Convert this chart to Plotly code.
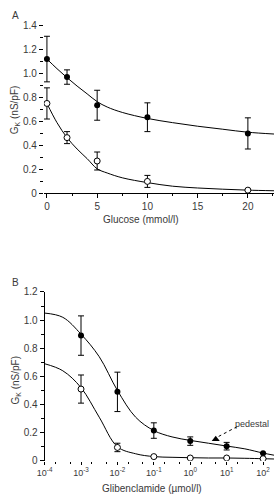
import plotly.graph_objects as go

# ---------------- Panel A data ----------------
glucose = [0, 2, 5, 10, 20]
gk_ctrl = [1.12, 0.97, 0.735, 0.635, 0.50]
gk_ctrl_err = [0.19, 0.06, 0.125, 0.12, 0.13]
gk_open = [0.75, 0.465, 0.27, 0.10, 0.027]
gk_open_err = [0.13, 0.05, 0.075, 0.05, 0.0]

fitA_x = [0, 1, 2, 3, 4, 5, 6, 7.5, 10, 12.5, 15, 17.5, 20, 22.6]
fitA_ctrl = [1.12, 1.04, 0.965, 0.895, 0.83, 0.765, 0.72, 0.675, 0.625, 0.59, 0.56, 0.535, 0.51, 0.495]
fitA_open = [0.75, 0.59, 0.465, 0.37, 0.29, 0.205, 0.17, 0.13, 0.09, 0.06, 0.045, 0.035, 0.027, 0.022]

# ---------------- Panel B data ----------------
glib_exp = [-3, -2, -1, 0, 1, 2]
gkB_ctrl = [0.89, 0.49, 0.215, 0.14, 0.104, 0.053]
gkB_ctrl_err = [0.14, 0.14, 0.055, 0.03, 0.027, 0.0]
gkB_open = [0.51, 0.095, 0.03, 0.02, 0.02, 0.015]
gkB_open_err = [0.10, 0.03, 0.0, 0.0, 0.0, 0.0]

fitB_exp = [-4, -3.5, -3, -2.5, -2, -1.5, -1, -0.5, 0, 0.5, 1, 1.5, 2, 2.3]
fitB_ctrl = [1.05, 1.02, 0.90, 0.74, 0.50, 0.31, 0.215, 0.17, 0.145, 0.125, 0.105, 0.085, 0.055, 0.04]
fitB_open = [0.69, 0.64, 0.52, 0.31, 0.10, 0.05, 0.03, 0.025, 0.022, 0.02, 0.02, 0.018, 0.015, 0.013]

xtickB_exp = [-4, -3, -2, -1, 0, 1, 2]
xtickB_text = ["10<sup>-4</sup>", "10<sup>-3</sup>", "10<sup>-2</sup>", "10<sup>-1</sup>",
               "10<sup>0</sup>", "10<sup>1</sup>", "10<sup>2</sup>"]
pedestal_exp = 0.70
pedestal_y = 0.153

FONT = "Liberation Sans, Arial, sans-serif"
TXT = "#3a3a3a"
W, H = 274, 500

fig = go.Figure()

def add_panel(xs, ctrl, ctrl_err, opn, opn_err, fx, fctrl, fopen, xa, ya):
    fig.add_trace(go.Scatter(x=fx, y=fctrl, mode="lines", line=dict(color="black", width=1, shape="spline", smoothing=1.0),
                             xaxis=xa, yaxis=ya, showlegend=False, hoverinfo="skip"))
    fig.add_trace(go.Scatter(x=fx, y=fopen, mode="lines", line=dict(color="black", width=1, shape="spline", smoothing=1.0),
                             xaxis=xa, yaxis=ya, showlegend=False, hoverinfo="skip"))
    fig.add_trace(go.Scatter(x=xs, y=ctrl, mode="markers",
                             marker=dict(symbol="circle", size=6, color="black"),
                             error_y=dict(type="data", array=ctrl_err, color="black", thickness=1, width=3),
                             xaxis=xa, yaxis=ya, showlegend=False))
    fig.add_trace(go.Scatter(x=xs, y=opn, mode="markers",
                             marker=dict(symbol="circle", size=6, color="white", line=dict(color="black", width=1)),
                             error_y=dict(type="data", array=opn_err, color="black", thickness=1, width=3),
                             xaxis=xa, yaxis=ya, showlegend=False))

add_panel(glucose, gk_ctrl, gk_ctrl_err, gk_open, gk_open_err, fitA_x, fitA_ctrl, fitA_open, "x", "y")

glib = [10 ** e for e in glib_exp]
fitB_x = [10 ** e for e in fitB_exp]
add_panel(glib, gkB_ctrl, gkB_ctrl_err, gkB_open, gkB_open_err, fitB_x, fitB_ctrl, fitB_open, "x2", "y2")

# pedestal arrow head
fig.add_trace(go.Scatter(x=[10 ** pedestal_exp], y=[pedestal_y], mode="markers",
                         marker=dict(symbol="triangle-up", size=7, color="black"),
                         xaxis="x2", yaxis="y2", showlegend=False, hoverinfo="skip"))

tickfont = dict(family=FONT, size=10, color=TXT)

def txt(text, px, py, size=10, angle=0, xa="center", ya="middle"):
    return dict(text=text, x=px / W, y=1 - py / H, xref="paper", yref="paper",
                xanchor=xa, yanchor=ya, textangle=angle, showarrow=False,
                font=dict(family=FONT, size=size, color=TXT))

fig.update_layout(
    width=W, height=H,
    margin=dict(l=0, r=0, t=0, b=0),
    paper_bgcolor="white", plot_bgcolor="white",
    font=dict(family=FONT, size=10, color=TXT),
    xaxis=dict(domain=[37 / W, 1], range=[-0.3, 22.6], tickvals=[0, 5, 10, 15, 20],
               ticks="outside", ticklen=4, tickcolor="black", showline=True, linecolor="black", linewidth=1,
               minor=dict(dtick=2.5, ticks="outside", ticklen=2, tickcolor="black"),
               showgrid=False, zeroline=False, tickfont=tickfont, anchor="y"),
    yaxis=dict(domain=[1 - 192 / H, 1 - 17.5 / H], range=[0, 1.42],
               tickvals=[0, 0.2, 0.4, 0.6, 0.8, 1.0, 1.2, 1.4],
               ticktext=["0", "0.2", "0.4", "0.6", "0.8", "1.0", "1.2", "1.4"],
               ticks="outside", ticklen=4, tickcolor="black", showline=False,
               minor=dict(dtick=0.1, ticks="outside", ticklen=3, tickcolor="black"),
               showgrid=False, zeroline=False, tickfont=tickfont, anchor="x"),
    xaxis2=dict(domain=[37.7 / W, 1], type="log", range=[-4, 2.3],
                tickvals=[10 ** e for e in xtickB_exp], ticktext=xtickB_text,
                ticks="outside", ticklen=3, tickcolor="black", showline=False,
                minor=dict(ticks="outside", ticklen=2, tickcolor="black"),
                showgrid=False, zeroline=False, tickfont=dict(family=FONT, size=9, color=TXT), anchor="y2"),
    yaxis2=dict(domain=[1 - 466 / H, 1 - 293 / H], range=[0, 1.2],
                tickvals=[0, 0.2, 0.4, 0.6, 0.8, 1.0, 1.2],
                ticktext=["0", "0.2", "0.4", "0.6", "0.8", "1.0", "1.2"],
                ticks="outside", ticklen=4, tickcolor="black", showline=True, linecolor="black", linewidth=1,
                minor=dict(dtick=0.1, ticks="outside", ticklen=3, tickcolor="black"),
                showgrid=False, zeroline=False, tickfont=tickfont, anchor="x2"),
    shapes=[dict(type="line", xref="paper", yref="paper",
                 x0=236 / W, y0=1 - 431 / H, x1=217 / W, y1=1 - 441 / H,
                 line=dict(color="black", width=1, dash="dot"))],
    annotations=[
        txt("A", 2, 2, xa="left", ya="top"),
        txt("B", 2, 276, xa="left", ya="top"),
        txt("G<sub>K</sub> (nS/pF)", 8, 106, angle=-90),
        txt("G<sub>K</sub> (nS/pF)", 8, 383, angle=-90),
        txt("Glucose (mmol/l)", 137, 219),
        txt("Glibenclamide (µmol/l)", 148, 494),
        txt("pedestal", 251, 428, size=9),
    ],
)

fig.write_html("out.html")
